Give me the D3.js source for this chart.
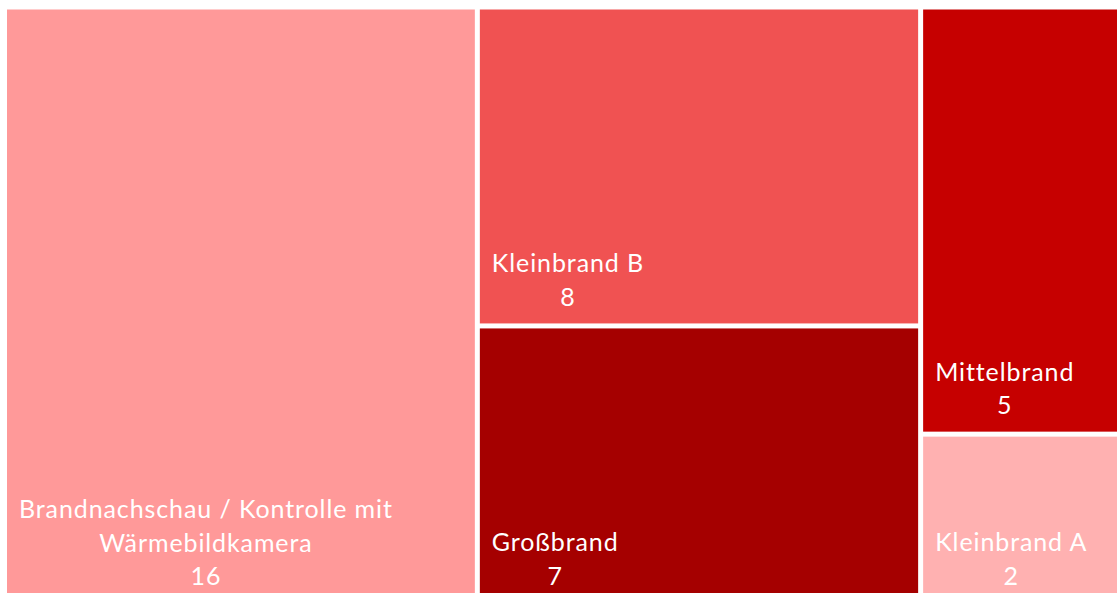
<!DOCTYPE html>
<html>
<head>
<meta charset="utf-8">
<script src="https://cdn.jsdelivr.net/npm/d3@7"></script>
<style>
  html, body { margin: 0; padding: 0; background: #fff; overflow: hidden; }
  svg { display: block; }
</style>
</head>
<body>
<div id="chart"></div>
<script>
// Treemap: Einsatzarten (Brandeinsätze) nach Anzahl
const categories = ['Brandnachschau / Kontrolle mit Wärmebildkamera', 'Kleinbrand B', 'Großbrand', 'Mittelbrand', 'Kleinbrand A'];
const counts = [16, 8, 7, 5, 2];
const colors = ['#ff9999', '#f05252', '#a50000', '#c60000', '#ffb1b1'];

const width = 1117, height = 593;
// die Grafik ist rechts/unten leicht angeschnitten
const area = { x: 7, y: 9.5, w: 1118, h: 593 };

const svg = d3.select('#chart').append('svg')
  .attr('width', width).attr('height', height);

const root = d3.hierarchy({ children: categories.map((c, i) => ({ name: c, value: counts[i], color: colors[i] })) })
  .sum(d => d.value || 0)
  .sort((a, b) => b.value - a.value);

d3.treemap()
  .tile(d3.treemapSquarify)
  .size([area.w, area.h])
  .paddingInner(5)(root);

const g = svg.append('g').attr('transform', `translate(${area.x},${area.y})`);

const cell = g.selectAll('g.cell').data(root.leaves()).join('g')
  .attr('class', 'cell')
  .attr('transform', d => `translate(${d.x0},${d.y0})`);

cell.append('rect')
  .attr('width', d => d.x1 - d.x0)
  .attr('height', d => d.y1 - d.y0)
  .attr('fill', d => d.data.color);

const fontSize = 25, lineH = 33.5, padL = 12, padB = 17.5;

cell.each(function (d) {
  const sel = d3.select(this);
  const maxW = d.x1 - d.x0 - padL * 2;
  const t = sel.append('text')
    .attr('fill', '#fff')
    .attr('font-family', 'Lato, "Open Sans", sans-serif')
    .attr('font-size', fontSize + 'px')
    .attr('letter-spacing', '0.9px');

  // Zeilenumbruch nach verfügbarer Breite
  const words = d.data.name.split(' ');
  const lines = [];
  let cur = [];
  const probe = t.append('tspan');
  const measure = s => { probe.text(s); return probe.node().getComputedTextLength(); };
  words.forEach(w => {
    if (cur.length && measure(cur.concat(w).join(' ')) > maxW) {
      lines.push(cur.join(' '));
      cur = [w];
    } else cur.push(w);
  });
  lines.push(cur.join(' '));
  lines.push(String(d.data.value));
  const blockW = d3.max(lines, measure);
  probe.remove();

  const cx = padL + blockW / 2;
  const lastBase = (d.y1 - d.y0) - padB;

  t.attr('text-anchor', 'middle');
  lines.forEach((l, i) => {
    t.append('tspan')
      .attr('x', cx)
      .attr('y', lastBase - (lines.length - 1 - i) * lineH)
      .text(l);
  });
});
</script>
</body>
</html>
